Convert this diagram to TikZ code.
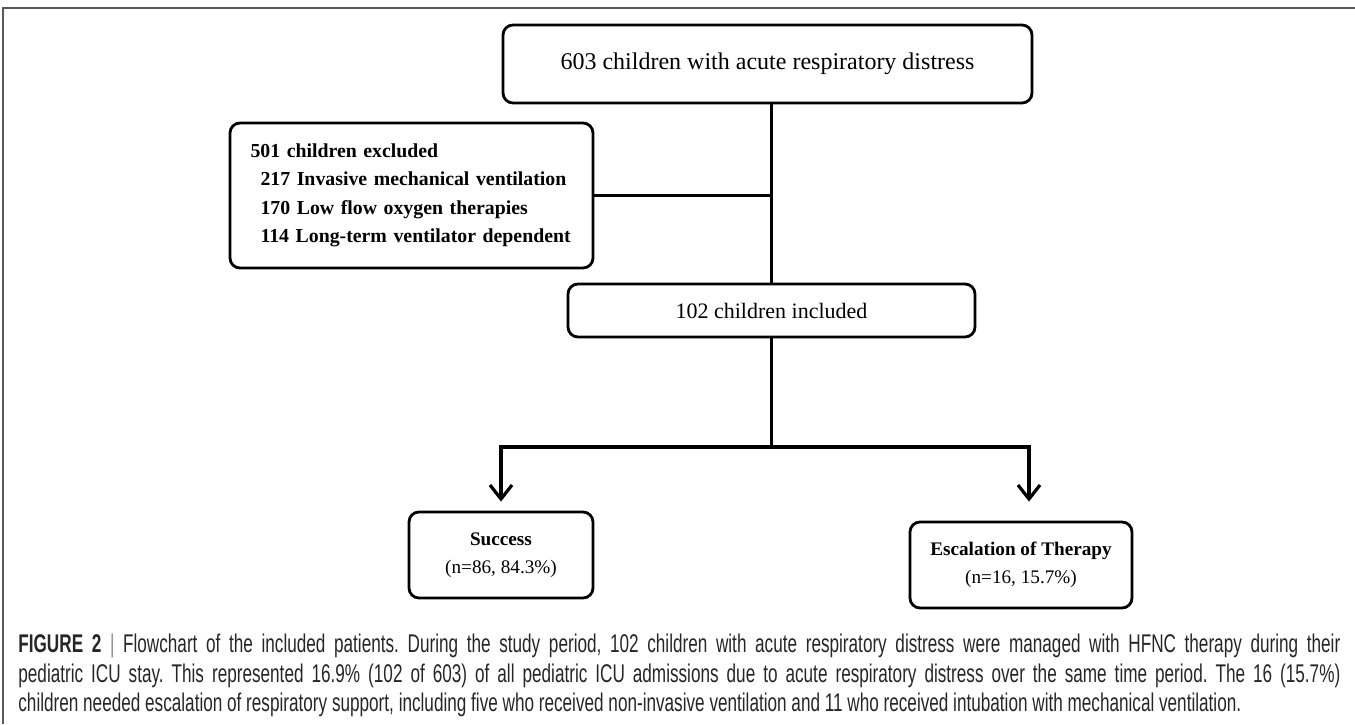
\documentclass[tikz,border=0pt]{standalone}
\usepackage{fontspec}
\setmainfont{Liberation Serif}
\newfontfamily\capfont[FakeStretch=0.67]{Liberation Sans}
\usetikzlibrary{arrows.meta}

\begin{document}
\begin{tikzpicture}[x=0.5pt,y=-0.5pt]
\tikzset{
  flowbox/.style={draw,rounded corners=5pt,line width=1.4pt,align=center,inner sep=0pt},
  link/.style={line width=1.6pt},
  arrowlink/.style={link,-{Straight Barb[length=7pt,width=11pt,line width=1.6pt]}},
  framebar/.style={draw=black!65,line width=1pt},
  captext/.style={anchor=base west,inner sep=0pt,text=black!85,font=\capfont\fontsize{12.8}{15}\selectfont\frenchspacing}
}
\useasboundingbox (0,0) rectangle (1355,724);
\draw[framebar] (3,724) -- (3,8) -- (1355,8);
% flow boxes
\node[flowbox,minimum width=264.5pt,minimum height=39pt,font=\fontsize{12}{15}\selectfont] (n_all) at (767.5,64) {603 children with acute respiratory distress};
\node[flowbox,minimum width=181.5pt,minimum height=72.5pt,text width=161pt,align=left,font=\bfseries\fontsize{9.9}{14.25}\selectfont] (n_excl) at (411.5,195.5) {\mbox{501 children excluded}\\
\mbox{\hspace*{5pt}217 Invasive mechanical ventilation}\\
\mbox{\hspace*{5pt}170 Low flow oxygen therapies}\\
\mbox{\hspace*{5pt}114 Long-term ventilator dependent}};
\node[flowbox,minimum width=203.5pt,minimum height=26.5pt,font=\fontsize{11}{13}\selectfont] (n_inc) at (771.5,310.5) {102 children included};
\node[flowbox,minimum width=92pt,minimum height=43pt,font=\fontsize{9.6}{14}\selectfont] (n_succ) at (501,555) {\textbf{Success}\\(n=86, 84.3\%)};
\node[flowbox,minimum width=111pt,minimum height=43pt,font=\fontsize{9.6}{14}\selectfont] (n_esc) at (1021,565) {\textbf{Escalation of Therapy}\\(n=16, 15.7\%)};
% connectors
\coordinate (split) at (771.5,447);
\draw[link] (n_all.south -| n_inc.north) -- (n_inc.north);
\draw[link] (n_excl.east) -- (n_excl.east -| n_inc.north);
\draw[link] (n_inc.south) -- (split);
\draw[arrowlink,shorten >=4.5pt] (split) -| (n_succ.north);
\draw[arrowlink,shorten >=9.5pt] (split) -| ([xshift=4pt]n_esc.north);
% caption, one node per printed line
\node[captext] (n_cap1) at (18,652) {\hbox to 661pt{\textbf{FIGURE 2} {\color{black!45}|} Flowchart of the included patients. During the study period, 102 children with acute respiratory distress were managed with HFNC therapy during their}};
\node[captext] (n_cap2) at (18,682) {\hbox to 661pt{pediatric ICU stay. This represented 16.9\% (102 of 603) of all pediatric ICU admissions due to acute respiratory distress over the same time period. The 16 (15.7\%)}};
\node[captext] (n_cap3) at (18,711) {children needed escalation of respiratory support, including five who received non-invasive ventilation and 11 who received intubation with mechanical ventilation.};
\end{tikzpicture}
\end{document}
